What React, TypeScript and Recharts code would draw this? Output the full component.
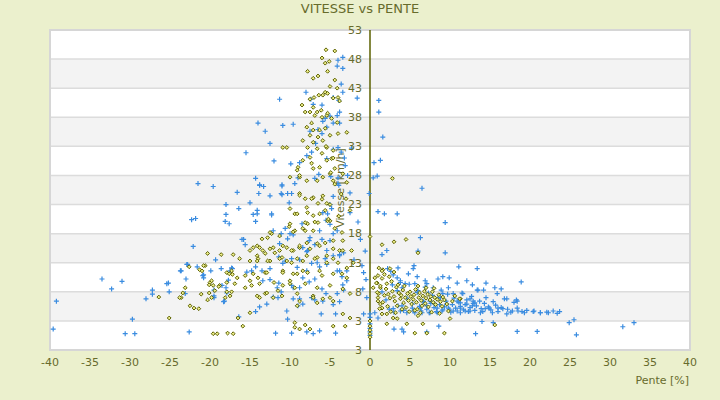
import {
  CartesianGrid,
  ReferenceArea,
  ReferenceLine,
  Scatter,
  ScatterChart,
  XAxis,
  YAxis,
} from "recharts";

// x = slope (%), y = speed (km/h)
const blueRuns: [number, number][] = [
  [-33.5, 10.2], [-32.3, 8.5], [-31, 9.8], [-39.2, 6.4], [-39.6, 1.6], [-30.6, 0.8], [-29.4, 0.8],
  [-29.7, 3.3], [-28, 6.8], [-27.2, 8.3], [-27.2, 7.6], [-25.2, 9.5], [-25.1, 8], [-23.7, 11.6],
  [-23, 10.2], [-22.8, 12.7], [-21.6, 12.3], [-19.9, 11.6], [-20.8, 10.9], [-19.5, 8.3], [-19.5, 7.3],
  [-22.6, 1.1], [-18.6, 12], [-18.2, 6.4], [-17.7, 10], [-17.2, 12],
  [-21.5, 26.6], [-19.6, 26.1], [-16.6, 25.1], [-14.3, 27.5], [-13.8, 26.4], [-13.3, 26.1], [-13.9, 24.9],
  [-11, 26.4], [-9.4, 26.6], [-11.1, 24.9], [-10.3, 24.9], [-10.1, 23.3], [-18, 23], [-15, 23.3],
  [-16.4, 22.3], [-14.1, 22], [-14.6, 21.3], [-12.3, 21.4], [-18, 21.3], [-22.3, 20.4], [-21.8, 20.6],
  [-18.1, 20.1], [-17.6, 19.7], [-14.3, 20.1], [-12.1, 18.5], [-11.1, 18], [-10.6, 18.9], [-10.3, 17.1],
  [-16, 17], [-15.8, 17], [-15.6, 16.1], [-22.1, 15.8], [-19.3, 13.5], [-22.9, 12.7], [-23.6, 11.6],
  [-20.9, 10.8], [-20.8, 10.4], [-17.3, 12.1], [-17.5, 11.6], [-15.4, 11.4], [-14.8, 11.6], [-14.3, 12.3],
  [-13.5, 11.6], [-25.4, 9.4], [-23.1, 7.7], [-18.5, 9.1], [-18, 8.7], [-17.9, 7.8], [-19.5, 7],
  [-18.3, 6.3], [-16.4, 3.7], [-14.3, 4.6], [-11.8, 0.9], [-9.8, 0.9], [-7.9, 1.1], [-7.1, 0.8],
  [-6.3, 1.3], [-4.3, 0.9], [-10.4, 4.7], [-10.3, 3.3], [-6.1, 4.2], [-4.3, 4.2], [-12.1, 7.1],
  [-13.8, 5.4], [-12.9, 5.9], [-11.5, 7], [-12.5, 10.1], [-11.4, 9.5], [-11.1, 8], [-9.8, 9.1],
  [-8.8, 8.7], [-7.6, 9.7], [-7.3, 7], [-6.9, 6.6], [-9.6, 6.8], [-9, 5.6], [-8.4, 5.9], [-5.9, 6.4],
  [-5.5, 7.7], [-4.6, 5.8], [-3.8, 6.3], [-3.3, 8.3], [-3.4, 9.2], [-3.5, 10.6], [-2.9, 11.6],
  [-4.1, 11.6], [-5.4, 12.7], [-4.6, 14.2], [-3.8, 14.4], [-3.3, 14.7], [-5, 16.8], [-6, 17],
  [-6.9, 16.1], [-7.6, 16.8], [-7.9, 14.9], [-6.6, 13], [-5.6, 13.7], [-6.3, 12.3], [-7.9, 11.6],
  [-8.8, 13.5], [-8.4, 15.6], [-9.6, 17.8], [-10.6, 13.3], [-11.4, 14], [-9.8, 13.7], [-5.9, 21.6],
  [-5, 19.6], [-5.5, 20.3], [-4.8, 22.3], [-4.1, 18.5], [-4, 26.6], [-4.6, 24.4], [-5, 23],
  [-4.9, 27.8], [-6.9, 27.5],
  [-13.8, 26.3], [-11, 26.2], [-9.8, 24.9], [-11, 24.7], [-12.5, 24.5], [-14.1, 21.4], [-12.3, 21.2],
  [-5.3, 21.4], [-2.5, 21.6], [-8.5, 19.7], [-6.3, 18.5], [-4.6, 18], [-10, 18], [-7.5, 17.3],
  [-11.3, 16.3], [-8.8, 15.6], [-7.8, 15.1], [-5.4, 15.1], [-3.8, 14.2], [-7.3, 12.9], [-9.1, 12.2],
  [-10.9, 12.9], [-12.5, 12], [-3.8, 11.6], [-2.9, 9.9], [-8.4, 10.4], [-6.9, 10.2], [-6, 8.5],
  [-9.6, 8.7], [-11.6, 8.7], [-13.4, 9.9], [-4.1, 7.7], [-8.8, 6.8],
  [-3.6, 43.7], [-3.4, 42.3], [-4.6, 41.4], [-3.9, 40.9], [-1.6, 41.3], [-8, 42.3], [-7.4, 41.1],
  [-6, 40.1], [-7.1, 40.2], [-4.1, 38.3], [-3.8, 38.9], [-5, 38.2], [-5.6, 37.8], [-5.9, 37.3],
  [-4.6, 37], [-3.8, 37], [-5.4, 36.3], [-6.5, 35.9], [-6, 35.2], [-7.5, 35.6], [-9.6, 36.8],
  [-10.9, 36.6], [-6.8, 33.5], [-7.3, 32], [-7.9, 31.4], [-8.8, 30.2], [-5.4, 30.9], [-4.6, 32.5],
  [-4, 32.8], [-3.6, 32], [-3.1, 29.7], [-2.3, 32.7], [-6.4, 28.2], [-9.9, 30], [-9, 27.6], [-4, 27.6],
  [-3.9, 26.3], [-4, 47.8], [-3.4, 48.3], [-4.1, 46.8], [-3.4, 46.4], [-11.3, 41.1], [-14, 37],
  [-13.1, 35.6], [-12.5, 33.5], [-15.5, 31.9], [-12, 30.5],
  [1.1, 40.9], [1.1, 38.9], [1.6, 34.6], [0.5, 30.2], [1.3, 30.6], [0.4, 27.6], [0.9, 27.9],
  [-0.1, 24.9], [1, 21.8], [1.8, 21.4], [3.4, 21.4], [9.4, 19.9], [6.3, 17.3], [6, 15], [2.1, 15.1],
  [1.5, 14.4], [9.4, 14.7], [6.5, 25.8],
  [-3.2, 31], [-2.8, 28], [-2.5, 25], [-1.5, 20], [-1.2, 17], [-0.6, 15], [-2, 13.5], [-1, 12.5],
  [0, 4.2], [0, 3.6], [0, 2.5], [0, 1.7], [0, 1.1], [0, 0.5],
  [1.5, 8], [2, 6.6], [2.4, 5], [2.8, 9.2], [3, 4.5], [3.5, 5.6], [3.8, 9.6], [4.2, 4.8], [4.6, 6.9],
  [4.9, 9.3], [5.3, 5.2], [5.6, 4.4], [5.9, 7.9], [6.2, 5.5], [6.4, 4.7], [6.7, 6.3], [6.9, 8.8],
  [7.1, 5], [7.4, 4.4], [7.6, 6], [7.8, 7.4], [8, 5.3], [8.3, 4.6], [8.5, 6.9], [8.7, 5.8], [8.9, 8.3],
  [9.1, 4.9], [9.3, 5.4], [9.5, 6.4], [9.7, 7.6], [9.9, 5], [10.1, 4.5], [10.3, 5.8], [10.5, 6.9],
  [10.7, 5.2], [10.9, 4.7], [11.1, 6.2], [11.3, 5.5], [11.5, 7.8], [11.7, 4.9], [11.9, 5.8], [12.1, 6.6],
  [12.3, 4.6], [12.5, 5.3], [12.7, 7.2], [12.9, 6], [13.1, 4.8], [13.3, 5.6], [13.5, 8.3], [13.7, 6.4],
  [13.9, 5.1], [14.1, 4.6], [14.3, 6], [14.5, 7], [14.8, 5.4], [15.1, 4.9], [15.4, 6.3], [15.7, 5.7],
  [16, 4.6], [16.4, 5.3], [16.8, 6.8], [17.2, 5], [17.6, 4.5], [18, 6.2], [18.4, 5.2], [19, 4.6],
  [19.6, 4.8], [20.4, 4.6], [21.3, 4.4], [22.1, 4.5], [23.4, 4.3], [23.7, 4.6], [24.9, 2.7],
  [25.5, 3.2], [25.8, 0.6], [31.6, 2], [33, 2.7], [18.4, 1.2], [20.9, 1.2], [15.4, 2.7], [14, 2.9],
  [13.2, 0.8], [8.6, 2.1], [7.1, 1.1], [4.2, 1.1], [3, 1.6], [4, 1.6],
  [3.5, 12.1], [2.2, 12], [2.6, 11.5], [4.8, 11.1], [5.4, 12], [5.5, 12.5], [5.9, 10.6], [6.9, 9.9],
  [8.5, 10.2], [9.1, 10.6], [9.9, 10.4], [10.9, 9.5], [11.1, 12.3], [12.1, 9.9], [12.8, 9.2],
  [13.4, 12], [13.4, 8.3], [14.2, 8.3], [14.5, 9.5], [15.6, 8.7], [15.9, 7.7], [16.4, 8.5], [17.1, 6.8],
  [18.4, 6.4], [18.9, 9.7], [18.3, 6.6], [19.3, 4.4], [18.5, 4.7], [20.5, 4.7], [22.3, 4.4], [17.1, 4.2],
  [16.6, 5.1], [17.8, 4.7], [15.3, 4.4], [14.9, 5.2], [16, 5.2], [14.4, 5.1], [13.8, 4.4], [12.5, 4.7],
  [11.3, 4.4], [10.4, 4.7], [9.8, 5.2], [12.1, 5.9], [13.1, 6.1], [11.3, 6.1], [10.9, 6.4], [12.9, 6.4],
  [9.1, 7.7], [8.8, 7], [8.1, 5.9], [9, 4.7], [8.4, 4.4], [7.5, 4.4], [6.5, 4.4], [5.4, 4.7], [4.6, 4.4],
  [3.8, 4.7], [2.9, 5.1], [4, 5.6], [5.3, 5.9], [6.3, 5.2], [7.1, 5.6], [7.5, 6.4], [6.6, 6.4], [6, 8.2],
  [5.6, 9.4], [4.4, 9.4], [3.8, 9.9], [3.4, 10.4], [2.9, 10.9], [4, 8.7], [3.4, 8.2], [7.9, 8.7],
  [7.1, 9.4], [7.3, 7.8], [9.8, 8.7], [10.4, 7.7], [11.6, 7.7], [12.5, 6.8], [9.6, 5.9], [8.4, 5.2],
  [11.3, 5.2], [11.9, 4.7], [12.8, 5.6], [21.3, 4.4], [22.9, 4.7], [1, 3.5], [0.6, 4.4], [-0.8, 4.2],
  [-0.4, 7], [-0.9, 8.5], [-0.5, 10.1], [-0.8, 11.3],
];

const oliveRuns: [number, number][] = [
  [-5.5, 49.6], [-4.4, 49.4], [-6, 48.2], [-5.1, 47.6], [-5.6, 47.3], [-5.3, 45.9], [-7.8, 45.9],
  [-7.1, 44.7], [-6.5, 45.1], [-4.4, 44.4], [-5, 43.3], [-4.1, 43], [-5.6, 42.3], [-6.4, 41.8],
  [-7.5, 41.1], [-4.6, 41.3], [-3.8, 40.8], [-8.5, 40.1], [-7.1, 39.7], [-6.1, 39.2], [-5.4, 38.3],
  [-4, 41.4], [-5.3, 42.1], [-7, 41.4], [-5.9, 41.8], [-6.6, 38.9], [-8.1, 38.9], [-7.5, 38.9],
  [-5.3, 38.7], [-6, 38], [-6.9, 38.3], [-4.8, 37.8], [-4.1, 37.1], [-7.3, 37], [-5.6, 36.1],
  [-6.3, 35.8], [-7.1, 35.8], [-7.9, 36.3], [-7.5, 34.9], [-6.5, 34.6], [-5, 34.9], [-4, 35.2],
  [-2.9, 35.4], [-5.9, 34], [-7.1, 33.7], [-8.4, 34], [-10.4, 32.8], [-10.9, 32.8], [-7.8, 32.8],
  [-6.6, 32.6], [-5.4, 32.8], [-4.6, 32.3], [-6, 31.8], [-7.5, 31.1], [-8.4, 30.6], [-9, 29.4],
  [-7.3, 30.1], [-7.1, 29.2], [-6.3, 29.4], [-5.4, 30.6], [-4.8, 30.9], [-4.4, 29.2], [-3.4, 28.3],
  [-5, 28.3], [-5.9, 27.7], [-6.6, 27.1], [-7.9, 27.1], [-8.8, 27.7], [-9.1, 28.9], [-10, 27.7],
  [-4.6, 27.1], [-2.9, 26.8],
  [-8.8, 28], [-8.8, 24.9], [-8.1, 24], [-7.1, 24.2], [-5.9, 24.5], [-5.4, 23.2], [-6.5, 23.2],
  [-7.9, 22.5], [-9.4, 21.4], [-10, 22.3], [-7.1, 21.1], [-5.6, 22], [-5, 20.2], [-6.5, 19.9],
  [-7.8, 19.7], [-7.1, 18.5], [-8.4, 18.9], [-9.4, 18.5], [-10.1, 19.2], [-4.4, 18.9], [-3.5, 18.2],
  [-3.4, 16.8], [-4.6, 16.8], [-5.6, 16.4], [-6.6, 16.3], [-7.9, 16.4], [-8.8, 15.6], [-9.6, 15.1],
  [-10.4, 15.6], [-11.3, 15.1], [-11.9, 14.7], [-12.5, 15.4], [-12.8, 17.3], [-12.3, 18], [-13.8, 15.6],
  [-15, 15.1], [-14.1, 14.2], [-13.1, 14.6], [-15, 13.3], [-14, 13.7], [-12.5, 13.3], [-11, 13.9],
  [-10.4, 13.3], [-9.1, 13.7], [-7.9, 14.2], [-6.6, 13.9], [-5.4, 14.2], [-4.6, 13.7], [-3.8, 15.1],
  [-2.3, 15.1], [-2.1, 13], [-2.9, 12.1], [-3.5, 11.1], [-6.3, 11.6], [-8.4, 11.6], [-9.6, 11.1],
  [-10.9, 11.6], [-13.1, 11.3], [-14, 10.4], [-15, 9.9], [-15.6, 10.8], [-16.6, 10.4], [-17.3, 11.6],
  [-17.9, 11.3], [-16.9, 9.4], [-17.9, 9.6], [-18.8, 9.1], [-19.6, 9.1], [-20, 9.6], [-19.8, 9.9],
  [-21, 11.6], [-20.6, 12.5], [-20.3, 14.6], [-18.6, 14.4], [-17.1, 14.4], [-16.3, 13.7], [-14.1, 15.9],
  [-8.8, 24.6], [-7.3, 24], [-6, 23.9], [-5, 23], [-6.3, 21.4], [-7.8, 21.6], [-9.1, 21.4], [-10, 19.7],
  [-8.1, 19.9], [-6.9, 20], [-5.3, 20.2], [-8.1, 18.5], [-9.6, 18.3], [-11.3, 17.6], [-12.5, 18.2],
  [-13.5, 17.1], [-14.6, 15.6], [-13.4, 15.1], [-12.1, 15.6], [-10.9, 15.9], [-9.8, 15.1], [-8.8, 15.9],
  [-7.5, 15.4], [-6.3, 15.9], [-4.6, 15.4], [-3.4, 15.1], [-14.1, 13.3], [-12.8, 13.3], [-11.3, 13.7],
  [-9.8, 13], [-8.4, 13.3], [-6.9, 13.7], [-5.4, 13], [-4, 13], [-14.6, 11.1], [-12.9, 11.3],
  [-10.9, 11.3], [-9.1, 11.1], [-7.8, 11.3], [-6, 10.8], [-4.6, 11.1], [-2.9, 10.4], [-13.8, 9.4],
  [-12, 9.6], [-10, 9.4], [-8.1, 9.4], [-6.6, 8.7], [-5, 9.1], [-3.4, 8.5], [-13.1, 7.7], [-11, 7.3],
  [-9.1, 7.7], [-7.1, 7.3], [-5, 7], [-2.5, 7.7],
  [-23.1, 8.7], [-23.6, 7], [-22.5, 5.6], [-22, 5.2], [-21.4, 5.1], [-25.1, 3.5], [-20.1, 7.8],
  [-19.4, 8.2], [-17.9, 8], [-17.5, 7.3], [-15.6, 8.7], [-14.8, 9.1], [-14.1, 7.3], [-13.8, 7],
  [-12.9, 7.8], [-12.1, 7], [-11.5, 8.2], [-10.9, 9.1], [-10, 9.9], [-9.4, 8.7], [-9.1, 5.6],
  [-8.8, 6.4], [-7.1, 7], [-6.6, 6.1], [-5.9, 6.8], [-4.6, 6.4], [-3.4, 4.2], [-2.5, 3.5], [-3.1, 2.1],
  [-4.6, 2.1], [-8.1, 2.3], [-8.8, 1.6], [-9.4, 1.9], [-7.5, 1.6], [-15, 4.4], [-16.5, 3.5],
  [-15.9, 2.1], [-19.6, 0.8], [-19.1, 0.8], [-17.8, 0.9], [-17.1, 0.8], [-9.4, 2.7],
  [-26.4, 7.1], [-23.4, 7.8], [-23.8, 7], [-22.6, 12.3], [-20.8, 12.5], [-21.3, 11.8], [-20.1, 9.2],
  [-21.1, 7.6], [-20.3, 6.6], [-19.8, 7], [-18.9, 8.9], [-18.1, 7], [-17.3, 8], [-17.6, 11.1],
  [-17.2, 11],
  [-5.5, 33], [-4.6, 31], [-4.9, 28.5], [-4.4, 26.5], [-3.6, 24.8], [-3, 24], [-2.5, 22], [-3.9, 21],
  [-5.2, 20.5],
  [2.8, 27.5], [4.5, 17], [3, 16.6], [1.5, 16.1], [6, 14.7], [1.1, 12.1], [1.6, 11.8], [0.6, 10.4],
  [0.9, 9.5], [1.3, 8.7], [1, 7], [1.3, 5.9], [1.5, 4.2], [2.1, 2.5], [4.6, 2.5], [5.6, 0.9], [7.1, 0.9],
  [9.3, 0.9], [6.6, 2.5], [6, 3.9], [2.9, 3.5], [1.5, 11.6], [1, 10.8], [0.8, 9.5], [0.4, 8.7],
  [1.1, 7.7], [1, 6.4], [1.5, 5.2], [2.1, 4.2], [3.4, 3.4], [10, 3.4], [11.3, 6.8], [15.6, 2.3],
  [0, 3], [0, 2.1], [0, 1.4], [0, 0.8], [0, 0.2], [0, 17.5],
  [2, 8.5], [2.3, 7.6], [2.5, 6.9], [2.8, 8.1], [3, 7.2], [3.1, 6.4], [3.3, 8.8], [3.4, 5.6], [3.6, 7.8],
  [3.8, 6.8], [3.9, 7.4], [4.1, 8.3], [4.2, 6.1], [4.4, 7], [4.5, 5.3], [4.7, 7.7], [4.8, 6.5], [5, 8],
  [5.1, 7.2], [5.2, 5.9], [5.4, 6.7], [5.5, 7.5], [5.7, 8.4], [5.8, 6.2], [5.9, 5], [6.1, 7], [6.2, 7.8],
  [6.4, 6.5], [6.5, 5.6], [6.6, 7.3], [6.8, 8.1], [6.9, 6], [7, 6.9], [7.2, 7.6], [7.3, 5.4], [7.5, 6.6],
  [7.6, 7.2], [7.8, 8], [7.9, 6.2], [8.1, 7], [8.2, 5.8], [8.4, 6.7], [8.6, 7.5], [8.8, 6.3], [9, 5.5],
  [9.1, 7.1], [9.3, 6.6], [9.6, 5.9], [2.2, 5.5], [2.6, 4.6], [3.2, 4.4], [1.6, 6.2], [1.8, 7.4],
  [2.1, 9.4], [2.7, 9.8], [3.5, 9.2], [4, 5], [4.9, 4.6], [5.6, 4.8], [6.3, 4.4], [6, 9], [7, 8.7],
  [8, 8.6], [1.3, 9], [1.5, 10.3], [0.9, 7.9], [1.2, 5.1], [10.3, 6.4], [10.6, 7.3], [11.2, 6.8],
  [9.8, 4.7], [8.7, 4.3], [7.7, 4.5], [4.3, 9], [2.4, 10.6], [3, 11.4], [1.8, 11], [2.5, 12],
];

const X_TICKS = [-40, -35, -30, -25, -20, -15, -10, -5, 0, 5, 10, 15, 20, 25, 30, 35, 40];
const Y_TICKS = [-2, 3, 8, 13, 18, 23, 28, 33, 38, 43, 48, 53];
const Y_TICK_LABELS = ["3", "3", "8", "13", "18", "23", "28", "33", "38", "43", "48", "53"];

const BLUE = "#3a8ce0";
const OLIVE = "#5b6000";
const TEXT = "#676b2c";
const FONT = "'DejaVu Sans', sans-serif";

// plot box inside the 720x400 chart (y axis band is 50px wide on the left)
const MARGIN = { top: 30, right: 30, bottom: 10, left: 0 };
const Y_AXIS_W = 50;
const PLOT_W = 720 - Y_AXIS_W - MARGIN.right;
const ZERO_X = Y_AXIS_W + (PLOT_W * (0 - X_TICKS[0])) / (X_TICKS[X_TICKS.length - 1] - X_TICKS[0]);

const toPoints = (rows: [number, number][]) => rows.map(([x, y]) => ({ x, y }));

function PlusMark({ cx, cy }: any) {
  return <path d={`M${cx - 2.5},${cy}h5M${cx},${cy - 2.5}v5`} stroke={BLUE} strokeWidth={1.2} />;
}

function DiamondMark({ cx, cy }: any) {
  return (
    <path
      d={`M${cx},${cy - 1.9}l1.9,1.9l-1.9,1.9l-1.9,-1.9z`}
      fill="#eeee8a"
      stroke={OLIVE}
      strokeWidth={1}
    />
  );
}

function SpeedTick({ y, payload }: any) {
  const i = Y_TICKS.indexOf(payload.value);
  return (
    <text x={ZERO_X - 8} y={y} dy="0.35em" textAnchor="end" fill={TEXT} fontSize={11} fontFamily={FONT}>
      {Y_TICK_LABELS[i]}
    </text>
  );
}

function SpeedTitle({ viewBox }: any) {
  const cx = viewBox.x - 30;
  const cy = viewBox.y + viewBox.height / 2 - 2;
  return (
    <text
      x={cx}
      y={cy}
      transform={`rotate(-90 ${cx} ${cy})`}
      textAnchor="middle"
      dy="0.35em"
      fill={TEXT}
      fontSize={11}
      fontFamily={FONT}
    >
      Vitesse [km/h]
    </text>
  );
}

function SlopeTitle({ viewBox }: any) {
  return (
    <text
      x={viewBox.x + viewBox.width - 1}
      y={viewBox.y + 34}
      textAnchor="end"
      fill={TEXT}
      fontSize={11}
      fontFamily={FONT}
    >
      Pente [%]
    </text>
  );
}

export default function App() {
  return (
    <div
      style={{
        position: "absolute",
        left: 0,
        top: 0,
        width: 720,
        height: 400,
        background: "#ebf0cd",
        fontFamily: FONT,
      }}
    >
      <div
        style={{
          position: "absolute",
          top: 1,
          width: 720,
          textAlign: "center",
          fontSize: 13,
          color: TEXT,
        }}
      >
        VITESSE vs PENTE
      </div>
      <ScatterChart width={720} height={400} margin={MARGIN}>
        <CartesianGrid
          vertical={false}
          stroke="#dcdcdc"
          strokeWidth={1.5}
          horizontalFill={["#ffffff", "#f3f3f3"]}
          fillOpacity={1}
        />
        <XAxis
          type="number"
          dataKey="x"
          domain={[X_TICKS[0], X_TICKS[X_TICKS.length - 1]]}
          ticks={X_TICKS}
          interval={0}
          height={40}
          axisLine={false}
          tickLine={false}
          tick={{ fill: TEXT, fontSize: 11, fontFamily: FONT }}
          label={<SlopeTitle />}
        />
        <YAxis
          type="number"
          dataKey="y"
          domain={[Y_TICKS[0], Y_TICKS[Y_TICKS.length - 1]]}
          ticks={Y_TICKS}
          interval={0}
          width={Y_AXIS_W}
          axisLine={false}
          tickLine={false}
          tick={<SpeedTick />}
        />
        <ReferenceArea
          x1={X_TICKS[0]}
          x2={X_TICKS[X_TICKS.length - 1]}
          y1={Y_TICKS[0]}
          y2={Y_TICKS[Y_TICKS.length - 1]}
          fill="none"
          stroke="#d6d6d6"
          strokeWidth={2}
        />
        <ReferenceLine x={0} stroke={OLIVE} strokeWidth={1.5} label={<SpeedTitle />} />
        <Scatter data={toPoints(blueRuns)} shape={<PlusMark />} isAnimationActive={false} />
        <Scatter data={toPoints(oliveRuns)} shape={<DiamondMark />} isAnimationActive={false} />
      </ScatterChart>
    </div>
  );
}
